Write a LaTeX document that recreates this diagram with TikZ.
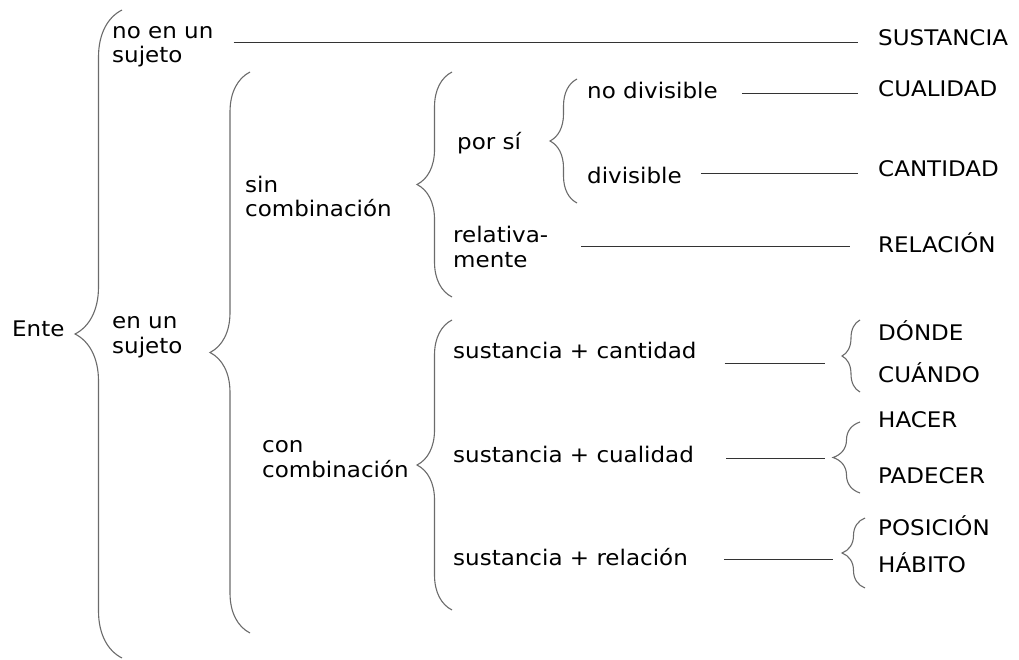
\documentclass[tikz,border=0pt]{standalone}
\usepackage{fontspec}
\setmainfont{DejaVu Sans}[FakeStretch=1.07]
\usetikzlibrary{calc,decorations.pathreplacing}

\tikzset{
  txt/.style={anchor=base west, inner sep=0pt, align=left, font=\fontsize{21.5}{24.5}\selectfont},
  brc/.style={draw=black!58, line width=1.1pt, decorate, decoration={brace, amplitude=#1pt}},
  lnk/.style={draw=black!80, line width=1pt}
}

\begin{document}
\begin{tikzpicture}[x=1pt, y=-1pt]

    \useasboundingbox (0,0) rectangle (1019,660);

    % left column (two-line nodes sit on their last line)
    \node[txt] at (12,336) (ente) {Ente};
    \node[txt] at (112,63) (noen) {no en un\\sujeto};
    \node[txt] at (112,353) (enun) {en un\\sujeto};
    \node[txt] at (245,217) (sinc) {sin\\combinación};
    \node[txt] at (262,477) (conc) {con\\combinación};
    \node[txt] at (457,150) (porsi) {por sí};
    \node[txt] at (453,267) (relat) {relativa-\\mente};
    \node[txt] at (587,99) (nodiv) {no divisible};
    \node[txt] at (587,184) (div) {divisible};
    \node[txt] at (453,358) (scant) {sustancia + cantidad};
    \node[txt] at (453,462) (scual) {sustancia + cualidad};
    \node[txt] at (453,565) (srel) {sustancia + relación};

    % categories
    \node[txt] at (878,46) (sust) {SUSTANCIA};
    \node[txt] at (878,97) (cual) {CUALIDAD};
    \node[txt] at (878,177) (cant) {CANTIDAD};
    \node[txt] at (878,252) (rel) {RELACIÓN};
    \node[txt] at (878,340) (donde) {DÓNDE};
    \node[txt] at (878,382) (cuando) {CUÁNDO};
    \node[txt] at (878,427) (hacer) {HACER};
    \node[txt] at (878,483) (padecer) {PADECER};
    \node[txt] at (878,535) (pos) {POSICIÓN};
    \node[txt] at (878,572) (hab) {HÁBITO};

    % braces
    \draw[brc=47] (122,658) -- (122,10);
    \draw[brc=40] (250,633) -- (250,72);
    \draw[brc=35] (452,297) -- (452,72);
    \draw[brc=27] (577,203) -- (577,79);
    \draw[brc=35] (452,610) -- (452,320);
    \draw[brc=18] (860,392) -- (860,320);
    \draw[brc=27] (860,493) -- (860,422);
    \draw[brc=23] (865,588) -- (865,518);

    \coordinate (donde-in) at (825,363);
    \coordinate (hacer-in) at (825,458);
    \coordinate (pos-in) at (833,559);

    % lines
    \draw[lnk] ($(noen.east |- sust.base)+(20,-3)$) -- ($(sust.base west)+(-20,-3)$);
    \draw[lnk] ($(nodiv.east |- cual.base)+(24,-3)$) -- ($(cual.base west)+(-20,-3)$);
    \draw[lnk] ($(div.east |- cant.base)+(19,-3)$) -- ($(cant.base west)+(-20,-3)$);
    \draw[lnk] ($(relat.east |- rel.base)+(33,-5)$) -- ($(rel.base west)+(-28,-5)$);
    \draw[lnk] (donde-in -| scant.east) ++(28,0) -- (donde-in);
    \draw[lnk] (hacer-in -| scual.east) ++(32,0) -- (hacer-in);
    \draw[lnk] (pos-in -| srel.east) ++(36,0) -- (pos-in);

\end{tikzpicture}
\end{document}
